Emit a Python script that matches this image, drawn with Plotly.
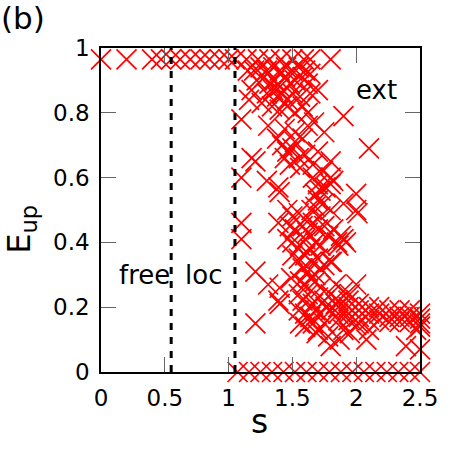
import plotly.graph_objects as go

# ---- data ----
s_top = [0.0, 0.2, 0.4, 0.47, 0.55, 0.62, 0.7, 0.78, 0.85, 0.93, 1.0,
         1.05, 1.14, 1.23, 1.32, 1.41, 1.5, 1.59, 1.64, 1.8]
e_top = [0.965] * 20

s_zero = [1.07, 1.16, 1.25, 1.34, 1.43, 1.52, 1.61, 1.7, 1.79, 1.88,
          1.97, 2.06, 2.15, 2.24, 2.33, 2.42, 2.5]
e_zero = [0.0] * 17

s_cloud = [
    # upper dense block
    1.15, 1.2, 1.25, 1.3, 1.35, 1.4, 1.45, 1.5, 1.55, 1.6,
    1.22, 1.28, 1.32, 1.36, 1.4, 1.44, 1.48, 1.52, 1.58, 1.62,
    1.18, 1.3, 1.35, 1.38, 1.42, 1.46, 1.5, 1.56, 1.64, 1.7,
    1.16, 1.26, 1.34, 1.4, 1.46, 1.52, 1.58, 1.62, 1.64,
    # 0.72-0.80
    1.10, 1.31, 1.44, 1.52, 1.67, 1.75, 1.38, 1.58, 1.62, 1.9,
    # 0.62-0.72
    1.18, 1.21, 1.42, 1.46, 1.5, 1.55, 1.6, 1.48, 1.56, 1.66,
    1.7, 1.74, 1.8, 1.52, 1.44, 2.1,
    # 0.52-0.62
    1.10, 1.30, 1.39, 1.40, 1.66, 1.7, 1.72, 1.68, 1.76, 1.8,
    1.8, 1.82, 1.7, 1.74, 2.0, 1.9, 2.0, 2.01, 1.8,
    # 0.30-0.51
    1.46, 1.5, 1.55, 1.6, 1.65, 1.68, 1.72, 1.48, 1.52, 1.58,
    1.62, 1.66, 1.7, 1.75, 1.46, 1.5, 1.56, 1.6, 1.64, 1.68,
    1.72, 1.78, 1.82, 1.85, 1.88, 1.9, 1.92, 1.86, 1.5, 1.55,
    1.6, 1.65, 1.7, 1.75, 1.8, 1.58, 1.62, 1.68, 1.72, 1.81,
    1.10, 1.10, 1.39, 1.21,
    # 0.07-0.30 left part
    1.31, 1.40, 1.39, 1.40, 1.21, 1.49,
    1.56, 1.6, 1.64, 1.68, 1.72, 1.55, 1.58, 1.62, 1.66, 1.7,
    1.75, 1.8, 1.55, 1.6, 1.64, 1.68, 1.72, 1.76, 1.8, 1.84,
    1.56, 1.6, 1.66, 1.7, 1.75, 1.69, 1.80, 1.78,
    # band on the right
    1.84, 1.9, 1.95, 2.0,
    1.86, 1.86, 1.86, 1.86, 1.94, 1.94, 1.94, 1.94,
    2.02, 2.02, 2.02, 2.02, 2.1, 2.1, 2.1, 2.18, 2.18, 2.18,
    2.26, 2.26, 2.26, 2.34, 2.34, 2.34, 2.42, 2.42, 2.42,
    2.5, 2.5, 2.5,
    1.87, 2.08, 2.1, 2.0, 1.9, 1.95, 2.39, 2.5, 2.5, 2.47,
]
e_cloud = [
    0.93, 0.93, 0.94, 0.93, 0.94, 0.93, 0.94, 0.93, 0.94, 0.93,
    0.90, 0.91, 0.89, 0.90, 0.88, 0.91, 0.89, 0.90, 0.91, 0.89,
    0.87, 0.86, 0.87, 0.85, 0.86, 0.84, 0.86, 0.85, 0.92, 0.87,
    0.84, 0.83, 0.82, 0.81, 0.82, 0.80, 0.82, 0.80, 0.86,
    0.78, 0.76, 0.75, 0.74, 0.77, 0.74, 0.72, 0.72, 0.76, 0.79,
    0.66, 0.65, 0.70, 0.68, 0.69, 0.66, 0.67, 0.64, 0.63, 0.64,
    0.68, 0.62, 0.65, 0.71, 0.66, 0.69,
    0.60, 0.59, 0.57, 0.555, 0.60, 0.58, 0.56, 0.55, 0.57, 0.60,
    0.58, 0.59, 0.53, 0.52, 0.55, 0.52, 0.50, 0.49, 0.50,
    0.50, 0.48, 0.49, 0.47, 0.50, 0.51, 0.48, 0.45, 0.44, 0.45,
    0.43, 0.46, 0.44, 0.45, 0.41, 0.40, 0.39, 0.41, 0.38, 0.40,
    0.39, 0.42, 0.44, 0.40, 0.42, 0.41, 0.40, 0.39, 0.36, 0.35,
    0.36, 0.34, 0.35, 0.33, 0.34, 0.32, 0.31, 0.30, 0.32, 0.34,
    0.46, 0.41, 0.46, 0.31,
    0.27, 0.26, 0.22, 0.21, 0.15, 0.29,
    0.28, 0.27, 0.29, 0.28, 0.26, 0.24, 0.22, 0.24, 0.21, 0.23,
    0.22, 0.24, 0.19, 0.18, 0.17, 0.19, 0.18, 0.20, 0.19, 0.21,
    0.15, 0.14, 0.15, 0.13, 0.15, 0.12, 0.08, 0.11,
    0.27, 0.25, 0.24, 0.27,
    0.22, 0.20, 0.18, 0.16, 0.22, 0.20, 0.18, 0.16,
    0.21, 0.19, 0.17, 0.15, 0.20, 0.18, 0.16, 0.20, 0.18, 0.16,
    0.19, 0.17, 0.155, 0.19, 0.17, 0.155, 0.19, 0.17, 0.155,
    0.18, 0.165, 0.15,
    0.10, 0.10, 0.13, 0.145, 0.13, 0.12, 0.08, 0.07, 0.14, 0.13,
]

boundaries = [0.55, 1.05]
region_labels = ["free", "loc", "ext"]
region_x = [0.34, 0.80, 2.16]
region_y = [0.30, 0.30, 0.87]

x_ticks = [0, 0.5, 1, 1.5, 2, 2.5]
x_tick_text = ["0", "0.5", "1", "1.5", "2", "2.5"]
y_ticks = [0, 0.2, 0.4, 0.6, 0.8, 1]
y_tick_text = ["0", "0.2", "0.4", "0.6", "0.8", "1"]

FONT = "DejaVu Sans"

fig = go.Figure()
s_all = s_top + s_zero + s_cloud
e_all = e_top + e_zero + e_cloud
fig.add_trace(go.Scatter(
    x=s_all, y=e_all, mode="markers", cliponaxis=False,
    marker=dict(symbol="x-thin", size=20, color="#ff0000",
                line=dict(color="#ff0000", width=1.7)),
    showlegend=False, hoverinfo="skip",
))

for b in boundaries:
    fig.add_shape(type="line", x0=b, x1=b, y0=0, y1=1, xref="x", yref="y",
                  line=dict(color="black", width=3, dash="7px,7px"))

for t, x, y in zip(region_labels, region_x, region_y):
    fig.add_annotation(x=x, y=y, text=t, showarrow=False,
                       xanchor="center", yanchor="middle",
                       font=dict(family=FONT, size=26, color="black"))

fig.add_annotation(x=-0.245, y=1.093, xref="paper", yref="paper", text="(b)",
                   xanchor="center", yanchor="middle",
                   showarrow=False, font=dict(family=FONT, size=31, color="black"))
fig.add_annotation(x=0.498, y=-0.154, xref="paper", yref="paper", text="s",
                   xanchor="center", yanchor="middle",
                   showarrow=False, font=dict(family=FONT, size=33, color="black"))
fig.add_annotation(x=-0.25, y=0.44, xref="paper", yref="paper",
                   text="E<sub>up</sub>", textangle=-90,
                   xanchor="center", yanchor="middle",
                   showarrow=False, font=dict(family=FONT, size=32, color="black"))

axis_common = dict(showline=True, linecolor="black", linewidth=1.5, mirror="ticks",
                   ticks="inside", ticklen=15, tickwidth=1.3, tickcolor="#666",
                   showgrid=False, zeroline=False,
                   tickfont=dict(family=FONT, size=23, color="black"))
fig.update_xaxes(range=[0, 2.5], tickvals=x_ticks, ticktext=x_tick_text,
                 ticklabelstandoff=5, **axis_common)
fig.update_yaxes(range=[0, 1], tickvals=y_ticks, ticktext=y_tick_text,
                 ticklabelstandoff=5, **axis_common)

fig.update_layout(width=450, height=450, margin=dict(l=101, r=26, t=48, b=78),
                  plot_bgcolor="white", paper_bgcolor="white")
fig.write_html("out.html")
